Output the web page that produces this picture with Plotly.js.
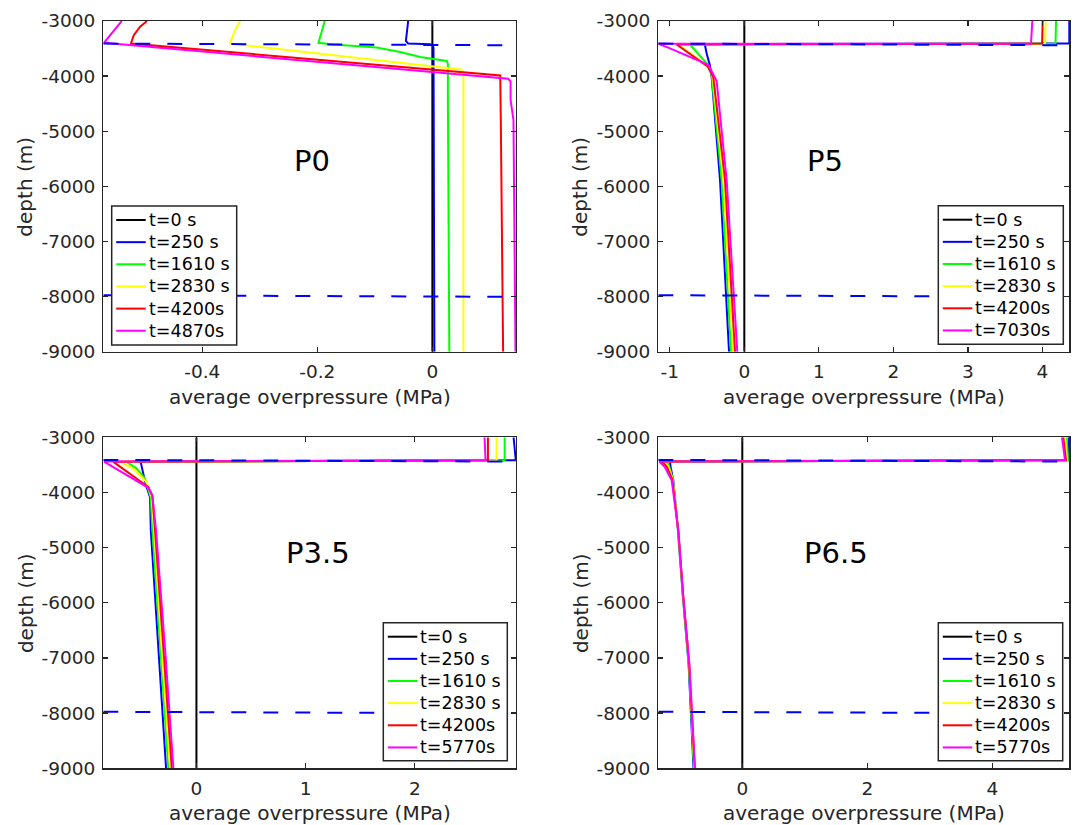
<!DOCTYPE html>
<html>
<head>
<meta charset="utf-8">
<script src="https://cdn.plot.ly/plotly-3.0.1.min.js"></script>
<style>
  html, body { margin: 0; padding: 0; background: #ffffff; }
  #chart { width: 1077px; height: 825px; }
</style>
</head>
<body>
<div id="chart"></div>
<script>
// ---------- shared axis values ----------
const depthTicks = [-9000, -8000, -7000, -6000, -5000, -4000, -3000];
const depthTickText = ['-9000', '-8000', '-7000', '-6000', '-5000', '-4000', '-3000'];
const depthRange = [-9000, -3000];

// reservoir top / bottom (dashed), depth at left and right ends
const boundTop_d = [-3410, -3440];
const boundBot_d = [-7975, -8005];

const lineColors = ['#000000', '#0000ff', '#00ff00', '#ffff00', '#ff0000', '#ff00ff'];

// ---------- P0 ----------
const p0Range = [-0.572, 0.1454];
const p0Ticks = [-0.4, -0.2, 0];
const p0TickText = ['-0.4', '-0.2', '0'];
const p0Labels = ['t=0 s', 't=250 s', 't=1610 s', 't=2830 s', 't=4200s', 't=4870s'];
const p0_t0_x = [0, 0];
const p0_t0_d = [-3000, -9000];
const p0_t250_x = [-0.042, -0.045, -0.046, -0.042, -0.004, 0.001, 0.002, 0.0035];
const p0_t250_d = [-3000, -3230, -3360, -3410, -3421, -3440, -3500, -9000];
const p0_t1610_x = [-0.187, -0.195, -0.198, -0.172, -0.097, -0.056, -0.021, 0.025, 0.027, 0.027, 0.0295];
const p0_t1610_d = [-3000, -3290, -3396, -3427, -3482, -3561, -3652, -3726, -3774, -4430, -9000];
const p0_t2830_x = [-0.334, -0.343, -0.352, 0.051, 0.054, 0.054];
const p0_t2830_d = [-3000, -3165, -3408, -3884, -3927, -9000];
const p0_t4200_x = [-0.496, -0.508, -0.519, -0.524, 0.118, 0.118, 0.119, 0.123];
const p0_t4200_d = [-3000, -3104, -3256, -3408, -3988, -4430, -4800, -9000];
const p0_t4870_x = [-0.540, -0.551, -0.563, -0.571, 0.132, 0.136, 0.136, 0.141, 0.1445];
const p0_t4870_d = [-3000, -3134, -3287, -3396, -4049, -4100, -4430, -4800, -9000];

// ---------- P5 ----------
const p5Range = [-1.154, 4.36];
const p5Ticks = [-1, 0, 1, 2, 3, 4];
const p5TickText = ['-1', '0', '1', '2', '3', '4'];
const p5Labels = ['t=0 s', 't=250 s', 't=1610 s', 't=2830 s', 't=4200s', 't=7030s'];
const p5_t0_x = [0, 0];
const p5_t0_d = [-3000, -9000];
const p5_t250_x = [4.36, 4.36, 4.347, -0.52, -0.528, -0.505, -0.461, -0.438, -0.326, -0.205];
const p5_t250_d = [-3000, -3396, -3408, -3420, -3439, -3591, -3805, -4018, -5885, -9000];
const p5_t1610_x = [4.182, 4.182, 4.175, -0.729, -0.483, -0.438, -0.304, -0.178];
const p5_t1610_d = [-3000, -3396, -3410, -3427, -3805, -3988, -5885, -9000];
const p5_t2830_x = [4.043, 4.043, 4.035, -0.886, -0.47, -0.425, -0.281, -0.151];
const p5_t2830_d = [-3000, -3396, -3410, -3427, -3835, -4006, -5885, -9000];
const p5_t4200_x = [4.003, 4.003, 3.995, -0.908, -0.492, -0.416, -0.259, -0.125];
const p5_t4200_d = [-3000, -3396, -3410, -3427, -3823, -4018, -5885, -9000];
const p5_t7030_x = [3.864, 3.855, 3.846, -1.154, -1.02, -0.483, -0.371, -0.237, -0.094];
const p5_t7030_d = [-3000, -3396, -3415, -3415, -3482, -3793, -4091, -5885, -9000];

// ---------- P3.5 ----------
const p35Range = [-0.853, 2.927];
const p35Ticks = [0, 1, 2];
const p35TickText = ['0', '1', '2'];
const p35Labels = ['t=0 s', 't=250 s', 't=1610 s', 't=2830 s', 't=4200s', 't=5770s'];
const p35_t0_x = [0, 0];
const p35_t0_d = [-3000, -9000];
const p35_t250_x = [2.905, 2.925, -0.511, -0.502, -0.48, -0.456, -0.425, -0.418, -0.348, -0.278];
const p35_t250_d = [-3000, -3415, -3445, -3537, -3720, -3902, -4085, -4685, -6846, -9000];
const p35_t1610_x = [2.823, 2.823, -0.639, -0.547, -0.471, -0.44, -0.419, -0.403, -0.333, -0.257];
const p35_t1610_d = [-3000, -3415, -3445, -3567, -3750, -3933, -4085, -4685, -6846, -9000];
const p35_t2830_x = [2.749, 2.749, -0.700, -0.578, -0.456, -0.41, -0.388, -0.318, -0.241];
const p35_t2830_d = [-3000, -3415, -3445, -3567, -3811, -4085, -4685, -6846, -9000];
const p35_t4200_x = [2.67, 2.67, -0.761, -0.44, -0.404, -0.379, -0.302, -0.226];
const p35_t4200_d = [-3000, -3415, -3445, -3902, -4055, -4685, -6846, -9000];
const p35_t5770_x = [2.639, 2.648, -0.847, -0.44, -0.404, -0.370, -0.287, -0.211];
const p35_t5770_d = [-3000, -3415, -3440, -3915, -4055, -4685, -6846, -9000];

// ---------- P6.5 ----------
const p65Range = [-1.344, 5.232];
const p65Ticks = [0, 2, 4];
const p65TickText = ['0', '2', '4'];
const p65Labels = ['t=0 s', 't=250 s', 't=1610 s', 't=2830 s', 't=4200s', 't=5770s'];
const p65_t0_x = [0, 0];
const p65_t0_d = [-3000, -9000];
const p65_t250_x = [5.225, 5.232, -1.157, -1.147, -1.104, -1.03, -0.95, -0.86, -0.78];
const p65_t250_d = [-3000, -3415, -3440, -3537, -3780, -4685, -5895, -7100, -9000];
const p65_t1610_x = [5.19, 5.21, -1.21, -1.17, -1.11, -1.027, -0.947, -0.855, -0.772];
const p65_t1610_d = [-3000, -3415, -3440, -3530, -3760, -4685, -5895, -7100, -9000];
const p65_t2830_x = [5.163, 5.195, -1.253, -1.19, -1.115, -1.025, -0.945, -0.852, -0.766];
const p65_t2830_d = [-3000, -3415, -3440, -3520, -3750, -4685, -5895, -7100, -9000];
const p65_t4200_x = [5.136, 5.179, -1.29, -1.21, -1.12, -1.024, -0.944, -0.85, -0.76];
const p65_t4200_d = [-3000, -3415, -3440, -3530, -3760, -4685, -5895, -7100, -9000];
const p65_t5770_x = [5.115, 5.163, -1.328, -1.24, -1.13, -1.024, -0.944, -0.848, -0.757];
const p65_t5770_d = [-3000, -3415, -3440, -3537, -3780, -4685, -5895, -7100, -9000];

// ---------- page geometry (pixels) ----------
const W = 1077, H = 825;
const FONT = 'DejaVu Sans, Verdana, sans-serif';
const INK = '#262626';
const px = v => v / W;
const py = v => 1 - v / H;

const panels = [
  { title: 'P0', n: '', box: [103.3, 21, 516, 351.7], range: p0Range, ticks: p0Ticks, tickText: p0TickText,
    labels: p0Labels, titlePos: [312, 161], legendBox: [111.7, 206, 236.7, 345],
    series: [[p0_t0_x, p0_t0_d], [p0_t250_x, p0_t250_d], [p0_t1610_x, p0_t1610_d],
             [p0_t2830_x, p0_t2830_d], [p0_t4200_x, p0_t4200_d], [p0_t4870_x, p0_t4870_d]] },
  { title: 'P5', n: '2', box: [658.3, 21, 1069.3, 351.7], range: p5Range, ticks: p5Ticks, tickText: p5TickText,
    labels: p5Labels, titlePos: [825, 161], legendBox: [938.3, 205.7, 1063.3, 344.3],
    series: [[p5_t0_x, p5_t0_d], [p5_t250_x, p5_t250_d], [p5_t1610_x, p5_t1610_d],
             [p5_t2830_x, p5_t2830_d], [p5_t4200_x, p5_t4200_d], [p5_t7030_x, p5_t7030_d]] },
  { title: 'P3.5', n: '3', box: [103.3, 437.3, 516, 768.3], range: p35Range, ticks: p35Ticks, tickText: p35TickText,
    labels: p35Labels, titlePos: [318, 553], legendBox: [383.3, 622.7, 507.3, 760.7],
    series: [[p35_t0_x, p35_t0_d], [p35_t250_x, p35_t250_d], [p35_t1610_x, p35_t1610_d],
             [p35_t2830_x, p35_t2830_d], [p35_t4200_x, p35_t4200_d], [p35_t5770_x, p35_t5770_d]] },
  { title: 'P6.5', n: '4', box: [658.3, 437.3, 1069.3, 768.3], range: p65Range, ticks: p65Ticks, tickText: p65TickText,
    labels: p65Labels, titlePos: [836, 553], legendBox: [938.3, 622.7, 1062.7, 760.7],
    series: [[p65_t0_x, p65_t0_d], [p65_t250_x, p65_t250_d], [p65_t1610_x, p65_t1610_d],
             [p65_t2830_x, p65_t2830_d], [p65_t4200_x, p65_t4200_d], [p65_t5770_x, p65_t5770_d]] }
];

const traces = [];
const shapes = [];
const annotations = [];
const layout = {
  width: W, height: H,
  margin: { l: 0, r: 0, t: 0, b: 0 },
  paper_bgcolor: '#ffffff', plot_bgcolor: '#ffffff',
  showlegend: false,
  font: { family: FONT, color: INK }
};

panels.forEach(p => {
  const xa = 'x' + p.n, ya = 'y' + p.n;
  const [L, T, R, B] = p.box;

  // time profiles
  p.series.forEach(([xs, ds], i) => {
    traces.push({
      type: 'scatter', mode: 'lines', x: xs, y: ds, xaxis: xa, yaxis: ya,
      name: p.labels[i], line: { color: lineColors[i], width: 2 }, hoverinfo: 'skip'
    });
  });
  // reservoir boundaries
  [boundTop_d, boundBot_d].forEach(bd => {
    traces.push({
      type: 'scatter', mode: 'lines', x: [p.range[0], p.range[1]], y: bd, xaxis: xa, yaxis: ya,
      line: { color: '#0000ff', width: 2, dash: '15px,17px' }, hoverinfo: 'skip'
    });
  });

  const axisCommon = {
    showline: true, linecolor: INK, linewidth: 1.3, mirror: 'ticks',
    ticks: 'inside', ticklen: 5, tickwidth: 1.3, tickcolor: INK,
    showgrid: false, zeroline: false, fixedrange: true,
    tickfont: { family: FONT, size: 18.5, color: INK }
  };
  layout['xaxis' + p.n] = Object.assign({}, axisCommon, {
    domain: [px(L), px(R)], anchor: ya, range: p.range,
    tickmode: 'array', tickvals: p.ticks, ticktext: p.tickText, ticklabelstandoff: 3
  });
  layout['yaxis' + p.n] = Object.assign({}, axisCommon, {
    domain: [py(B), py(T)], anchor: xa, range: depthRange,
    tickmode: 'array', tickvals: depthTicks, ticktext: depthTickText, ticklabelstandoff: 3
  });

  // axis titles
  annotations.push({
    xref: 'paper', yref: 'paper', x: px((L + R) / 2), y: py(B + 45),
    xanchor: 'center', yanchor: 'middle', showarrow: false,
    text: 'average overpressure (MPa)', font: { family: FONT, size: 20, color: INK }
  });
  annotations.push({
    xref: 'paper', yref: 'paper', x: px(L - 78), y: py((T + B) / 2),
    xanchor: 'center', yanchor: 'middle', showarrow: false, textangle: -90,
    text: 'depth (m)', font: { family: FONT, size: 20, color: INK }
  });
  // panel name
  annotations.push({
    xref: 'paper', yref: 'paper', x: px(p.titlePos[0]), y: py(p.titlePos[1]),
    xanchor: 'center', yanchor: 'middle', showarrow: false,
    text: p.title, font: { family: FONT, size: 29, color: '#000000' }
  });

  // legend box
  const [lx0, ly0, lx1, ly1] = p.legendBox;
  shapes.push({
    type: 'rect', xref: 'paper', yref: 'paper', layer: 'above',
    x0: px(lx0), x1: px(lx1), y0: py(ly1), y1: py(ly0),
    fillcolor: '#ffffff', line: { color: INK, width: 1.5 }
  });
  p.labels.forEach((lab, i) => {
    const yc = ly0 + 14 + i * 22.15;
    shapes.push({
      type: 'line', xref: 'paper', yref: 'paper', layer: 'above',
      x0: px(lx0 + 4.5), x1: px(lx0 + 34), y0: py(yc), y1: py(yc),
      line: { color: lineColors[i], width: 2 }
    });
    annotations.push({
      xref: 'paper', yref: 'paper', x: px(lx0 + 35), y: py(yc),
      xanchor: 'left', yanchor: 'middle', showarrow: false,
      text: lab, font: { family: FONT, size: 17.5, color: '#000000' }
    });
  });
});

layout.shapes = shapes;
layout.annotations = annotations;

Plotly.newPlot('chart', traces, layout, { staticPlot: true, displayModeBar: false });
</script>
</body>
</html>
